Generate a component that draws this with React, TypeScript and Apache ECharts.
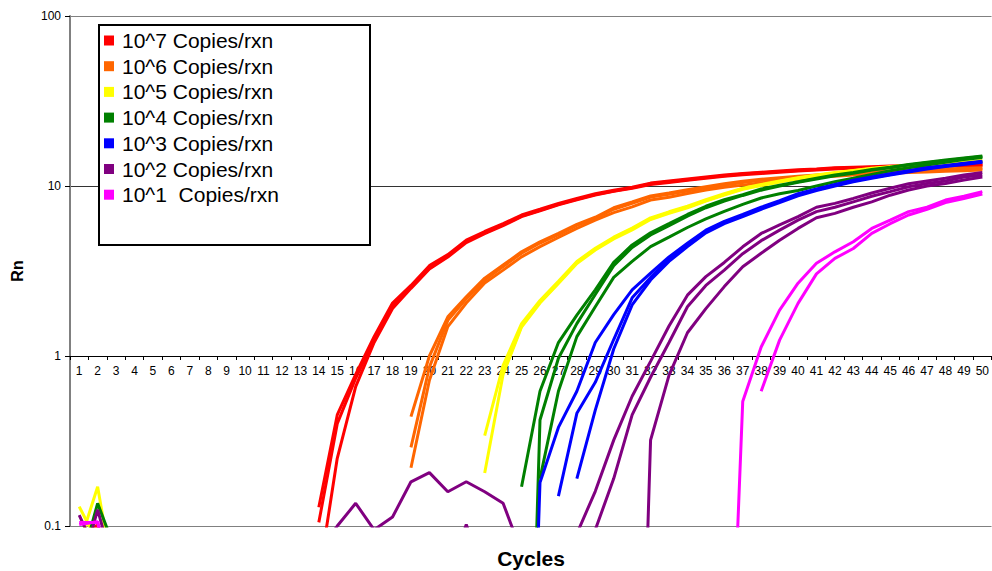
import React, { useEffect, useRef } from "react";
import * as echarts from "echarts";

// ---------- data ----------
const cycles = [
  "1","2","3","4","5","6","7","8","9","10","11","12","13","14","15","16","17","18","19","20",
  "21","22","23","24","25","26","27","28","29","30","31","32","33","34","35","36","37","38","39","40",
  "41","42","43","44","45","46","47","48","49","50",
];
const dilutionNames = [
  "10^7 Copies/rxn",
  "10^6 Copies/rxn",
  "10^5 Copies/rxn",
  "10^4 Copies/rxn",
  "10^3 Copies/rxn",
  "10^2 Copies/rxn",
  "10^1  Copies/rxn",
];
const dilutionColors = ["#FF0000", "#FF6600", "#FFFF00", "#008000", "#0000FF", "#800080", "#FF00FF"];

// 10^7 replicates
const red1Noise = [0.08, 0.102, 0.05]; // cycles 1-3
const red1 = [0.129,0.45,0.78,1.3,2.05,2.6,3.4,3.95,4.8,5.4,6.0,6.75,7.3,7.9,8.45,9.0,9.45,9.85,10.4,10.7,11.0,11.3,11.6,11.85,12.05,12.25,12.45,12.6,12.8,12.9,13.0,13.1,13.2,13.25,13.3,13.35,13.4]; // 14-50
const red2 = [0.105,0.40,0.74,1.25,1.98,2.55,3.3,3.88,4.72,5.3,5.9,6.65,7.2,7.8,8.35,8.9,9.35,9.75,10.3,10.6,10.9,11.2,11.5,11.75,11.95,12.15,12.35,12.5,12.7,12.8,12.9,13.0,13.1,13.15,13.2,13.25,13.3]; // 14-50
const red3 = [0.05,0.25,0.66,1.2,1.9,2.5,3.25,3.82,4.65,5.25,5.85,6.6,7.15,7.75,8.3,8.85,9.3,9.7,10.2,10.5,10.8,11.1,11.4,11.65,11.85,12.05,12.25,12.4,12.6,12.7,12.8,12.9,13.0,13.05,13.1,13.15,13.2]; // 14-50

// 10^6 replicates (cycles 19-50)
const orange1 = [0.44,1.0,1.7,2.23,2.87,3.43,4.1,4.7,5.26,5.95,6.55,7.45,8.05,8.75,9.1,9.5,9.9,10.3,10.65,10.95,11.2,11.4,11.6,11.8,11.95,12.1,12.25,12.4,12.5,12.6,12.7,12.8];
const orange2 = [0.29,0.86,1.62,2.17,2.8,3.36,4.02,4.62,5.17,5.86,6.45,7.3,7.9,8.6,8.95,9.35,9.75,10.15,10.5,10.8,11.05,11.25,11.45,11.65,11.8,11.95,12.1,12.25,12.35,12.45,12.55,12.65];
const orange3 = [0.22,0.72,1.49,2.05,2.69,3.2,3.83,4.4,4.98,5.63,6.3,6.97,7.54,8.27,8.58,9.04,9.47,9.84,10.12,10.45,10.7,11.0,11.3,11.4,11.6,11.75,11.9,12.0,12.1,12.2,12.3,12.4];

// 10^5 replicates
const yellow1Noise = [0.13, 0.08, 0.05];
const yellow2Noise = [0.078, 0.17, 0.04];
const yellow1 = [0.34,0.88,1.55,2.12,2.75,3.6,4.3,5.0,5.65,6.5,7.05,7.6,8.3,9.0,9.7,10.2,10.7,11.2,11.6,12.0,12.35,12.7,13.0,13.3,13.5,13.7,13.9,14.1]; // 23-50
const yellow2 = [0.205,0.78,1.48,2.05,2.67,3.5,4.2,4.88,5.52,6.35,6.9,7.45,8.15,8.85,9.55,10.05,10.55,11.05,11.45,11.85,12.2,12.55,12.85,13.15,13.35,13.55,13.75,13.95]; // 23-50
const yellow3 = [0.8,1.5,2.08,2.7,3.55,4.25,4.95,5.6,6.42,6.98,7.52,8.22,8.92,9.62,10.12,10.62,11.12,11.52,11.92,12.28,12.62,12.92,13.22,13.42,13.62,13.82,14.02]; // 24-50

// 10^4 replicates
const green3Noise = [0.055, 0.136, 0.07];
const green1 = [0.17,0.62,1.2,1.74,2.45,3.55,4.5,5.3,6.0,6.8,7.6,8.3,8.9,9.6,10.1,10.6,11.1,11.6,12.0,12.5,12.9,13.4,13.8,14.2,14.6,15.0]; // 25-50
const green2 = [0.0001,0.42,0.97,1.55,2.3,3.4,4.35,5.15,5.85,6.65,7.45,8.15,8.8,9.45,10.0,10.5,11.0,11.5,11.9,12.4,12.8,13.3,13.7,14.1,14.5,14.9]; // 25-50
const green3 = [0.19,0.62,1.3,1.95,2.9,3.6,4.4,5.0,5.7,6.4,7.1,7.8,8.5,9.0,9.4,10.0,10.6,11.1,11.7,12.3,12.8,13.3,13.8,14.3,14.7]; // 26-50

// 10^3 replicates
const blue1 = [0.0001,0.18,0.38,0.62,1.2,1.75,2.45,3.07,3.83,4.6,5.5,6.2,6.8,7.5,8.2,9.0,9.6,10.2,10.8,11.3,11.8,12.3,12.8,13.2,13.6,14.0]; // 25-50
const blue2 = [0.15,0.46,0.7,1.25,2.2,2.9,3.7,4.5,5.4,6.1,6.7,7.4,8.1,8.85,9.5,10.1,10.7,11.2,11.7,12.2,12.7,13.1,13.5,13.9]; // 27-50
const blue3 = [0.19,0.48,1.1,2.0,2.8,3.6,4.4,5.3,6.0,6.6,7.3,8.0,8.75,9.4,10.0,10.6,11.1,11.6,12.1,12.6,13.0,13.4,13.8]; // 28-50

// 10^2 replicates
const purple1Noise = [0.116, 0.067, 0.05]; // 1-3
const purple1Blip = [0.05, 0.102, 0.05]; // 21-23
const purple1 = [0.09,0.16,0.32,0.58,0.93,1.5,2.28,2.93,3.55,4.39,5.26,5.9,6.6,7.5,7.9,8.45,9.1,9.7,10.3,10.7,11.1,11.6,12.0]; // 28-50
const purple2Noise = [0.05, 0.125, 0.05]; // 1-3
const purple2 = [0.095,0.19,0.45,0.75,1.2,1.95,2.6,3.2,4.0,4.77,5.5,6.3,7.07,7.5,8.07,8.7,9.27,9.9,10.35,10.7,11.3,11.6]; // 29-50
const purple3Noise = [0.07,0.1,0.136,0.095,0.113,0.182,0.206,0.159,0.182,0.159,0.136,0.07]; // 14-25
const purple3 = [0.0001,0.32,0.77,1.37,1.9,2.56,3.35,4.02,4.8,5.63,6.5,6.9,7.5,8.07,8.83,9.47,10.0,10.35,10.85,11.3]; // 31-50

// 10^1 replicates
const magenta1Noise = [0.105, 0.105, 0.03]; // 1-3
const magenta1 = [0.001,0.54,1.13,1.86,2.68,3.51,4.1,4.7,5.63,6.3,7.07,7.5,8.27,8.7,9.27]; // 36-50
const magenta2 = [0.62,1.24,2.04,3.04,3.75,4.29,5.26,6.0,6.75,7.3,8.0,8.45,8.97]; // 38-50
const magenta3Noise = [0.102, 0.106, 0.04]; // 1-3

// replicate table: dilution index, [start cycle, values] parts
const replicates: [number, [number, number[]][]][] = [
  [0, [[1, red1Noise], [14, red1]]],
  [0, [[14, red2]]],
  [0, [[14, red3]]],
  [1, [[19, orange1]]],
  [1, [[19, orange2]]],
  [1, [[19, orange3]]],
  [2, [[1, yellow1Noise], [23, yellow1]]],
  [2, [[1, yellow2Noise], [23, yellow2]]],
  [2, [[24, yellow3]]],
  [3, [[25, green1]]],
  [3, [[25, green2]]],
  [3, [[1, green3Noise], [26, green3]]],
  [4, [[25, blue1]]],
  [4, [[27, blue2]]],
  [4, [[28, blue3]]],
  [5, [[1, purple1Noise], [21, purple1Blip], [28, purple1]]],
  [5, [[1, purple2Noise], [29, purple2]]],
  [5, [[14, purple3Noise], [31, purple3]]],
  [6, [[1, magenta1Noise], [36, magenta1]]],
  [6, [[38, magenta2]]],
  [6, [[1, magenta3Noise]]],
];

const FONT = "'Liberation Sans', Arial, sans-serif";

function buildRow(parts: [number, number[]][]) {
  const row: (number | null)[] = cycles.map(() => null);
  parts.forEach(([start, vals]) => {
    vals.forEach((v, i) => {
      row[start - 1 + i] = v;
    });
  });
  return row;
}

export default function App() {
  const ref = useRef<HTMLDivElement>(null);
  useEffect(() => {
    if (!ref.current) return;
    const chart = echarts.init(ref.current, undefined, { renderer: "svg" });
    const series = replicates.map(([d, parts]) => ({
      type: "line",
      name: dilutionNames[d],
      data: buildRow(parts),
      showSymbol: false,
      symbol: "none",
      connectNulls: false,
      clip: true,
      lineStyle: { color: dilutionColors[d], width: 3 },
      itemStyle: { color: dilutionColors[d] },
      emphasis: { disabled: true },
      z: 2,
    }));
    chart.setOption({
      animation: false,
      backgroundColor: "#ffffff",
      textStyle: { fontFamily: FONT },
      grid: { left: 70, right: 0, top: 16, bottom: 45, containLabel: false },
      xAxis: {
        type: "category",
        data: cycles,
        boundaryGap: true,
        offset: -170,
        axisLine: { show: true, onZero: false, lineStyle: { color: "#000", width: 1 } },
        axisTick: { show: true, interval: 0, length: 4, lineStyle: { color: "#000" } },
        axisLabel: { interval: 0, fontSize: 12, margin: 9, color: "#000", fontFamily: FONT },
        splitLine: { show: false },
      },
      yAxis: {
        type: "log",
        logBase: 10,
        min: 0.1,
        max: 100,
        axisLine: { show: true, lineStyle: { color: "#808080", width: 2 } },
        axisTick: { show: true, length: 5, lineStyle: { color: "#000" } },
        axisLabel: {
          fontSize: 12,
          margin: 9,
          color: "#000",
          fontFamily: FONT,
          formatter: (v: number) => String(Number(v.toPrecision(3))),
        },
        minorTick: { show: false },
        splitLine: {
          show: true,
          lineStyle: { color: ["#808080", "#000000", "#333333", "#808080"], width: 1 },
        },
      },
      legend: {
        data: dilutionNames,
        orient: "vertical",
        left: 104,
        top: 30,
        icon: "rect",
        itemWidth: 10,
        itemHeight: 10,
        itemGap: 4.7,
        padding: 0,
        selectedMode: false,
        z: 10,
        textStyle: { fontSize: 21, color: "#000", fontFamily: FONT, padding: [0, 0, 0, 3] },
      },
      graphic: [
        {
          type: "rect",
          z: 3,
          shape: { x: 99, y: 25, width: 271, height: 220 },
          style: { fill: "#ffffff", stroke: "#000000", lineWidth: 2 },
        },
        {
          type: "text",
          z: 3,
          x: 531,
          y: 558,
          style: {
            text: "Cycles",
            fontSize: 21,
            fontWeight: "bold",
            fontFamily: FONT,
            fill: "#000",
            textAlign: "center",
            textVerticalAlign: "middle",
          },
        },
        {
          type: "text",
          z: 3,
          x: 17,
          y: 271,
          rotation: Math.PI / 2,
          style: {
            text: "Rn",
            fontSize: 16,
            fontWeight: "bold",
            fontFamily: FONT,
            fill: "#000",
            textAlign: "center",
            textVerticalAlign: "middle",
          },
        },
      ],
      series,
    });
    return () => chart.dispose();
  }, []);
  return (
    <div
      ref={ref}
      style={{ position: "absolute", left: 0, top: 0, width: 992, height: 571, background: "#fff" }}
    />
  );
}
